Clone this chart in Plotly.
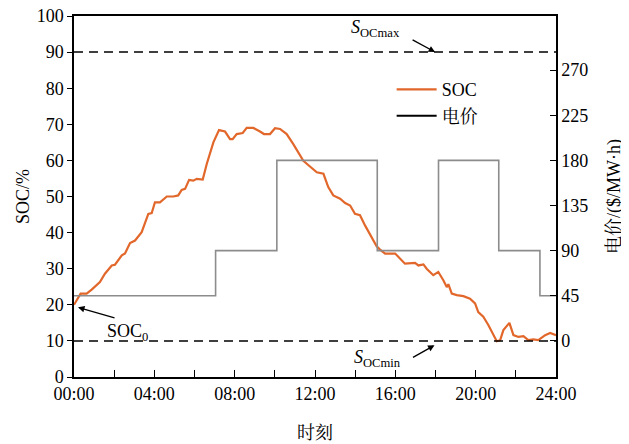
import plotly.graph_objects as go

# SOC curve (hours, %)
soc_hours = [0, 0.33, 0.63, 0.88, 1.29, 1.54, 1.88, 2.04, 2.38, 2.54, 2.79, 3.04, 3.37, 3.70, 3.87,
             4.03, 4.28, 4.62, 4.95, 5.19, 5.36, 5.53, 5.73, 5.94, 6.11, 6.41, 6.61, 6.94, 7.22,
             7.52, 7.77, 7.90, 8.10, 8.40, 8.60, 8.93, 9.26, 9.46, 9.76, 10.01, 10.26, 10.59,
             10.92, 11.42, 11.75, 12.09, 12.42, 12.66, 12.91, 13.25, 13.50, 13.75, 13.99, 14.24,
             14.49, 14.83, 15.07, 15.24, 15.49, 15.99, 16.48, 16.98, 17.15, 17.40, 17.56, 17.89,
             18.14, 18.39, 18.56, 18.64, 18.81, 19.06, 19.39, 19.72, 19.97, 20.13, 20.38, 20.63,
             20.80, 21.05, 21.22, 21.38, 21.68, 21.88, 22.13, 22.38, 22.62, 22.87, 23.12, 23.46,
             23.71, 24.0]
soc_values = [20.0, 23.1, 23.1, 24.2, 26.3, 28.6, 30.9, 31.1, 33.7, 34.2, 37.1, 37.8, 40.1, 45.2, 45.4,
              48.4, 48.4, 50.0, 50.0, 50.3, 51.8, 52.1, 54.6, 54.4, 54.9, 54.7, 59.0, 65.0, 68.4,
              68.0, 65.9, 65.9, 67.3, 67.6, 69.0, 69.0, 68.0, 67.3, 67.3, 68.9, 68.7, 67.3,
              64.5, 59.9, 58.3, 56.7, 56.3, 52.6, 50.3, 49.4, 48.2, 47.5, 45.2, 44.8,
              42.0, 38.8, 36.2, 35.3, 34.2, 34.2, 31.4, 31.6, 30.9, 31.2, 30.0, 28.2,
              29.1, 26.8, 24.9, 25.7, 23.1, 22.7, 22.4, 21.7, 20.4, 18.0, 16.7, 14.4,
              12.5, 9.9, 10.2, 13.0, 15.0, 11.6, 11.1, 11.3, 10.2, 10.4, 10.2, 11.6,
              12.2, 11.6]

# Electricity price steps (hours, $/MWh)
price_hours = [0, 7.05, 10.1, 15.1, 18.15, 21.15, 23.2, 24]
price_values = [45, 90, 180, 90, 180, 90, 45, 45]

soc_max = 90
soc_min = 10

x_tickvals = [0, 2, 4, 6, 8, 10, 12, 14, 16, 18, 20, 22, 24]
x_ticktext = ["00:00", "", "04:00", "", "08:00", "", "12:00", "", "16:00", "", "20:00", "", "24:00"]
y_tickvals = [0, 10, 20, 30, 40, 50, 60, 70, 80, 90, 100]
y2_tickvals = [0, 45, 90, 135, 180, 225, 270]

FONT = "Liberation Serif, Times New Roman, Noto Serif CJK SC, Noto Sans CJK SC, serif"
SOC_COLOR = "#E2672B"
PRICE_COLOR = "#8C8C8C"

fig = go.Figure()

fig.add_trace(go.Scatter(x=price_hours, y=price_values, mode="lines", line_shape="hv",
                         line=dict(color=PRICE_COLOR, width=1.6), yaxis="y2", showlegend=False))
fig.add_trace(go.Scatter(x=soc_hours, y=soc_values, mode="lines", name="SOC",
                         line=dict(color=SOC_COLOR, width=2.2)))
fig.add_trace(go.Scatter(x=[None], y=[None], mode="lines", name="电价",
                         line=dict(color="black", width=2), yaxis="y2"))

for lvl in (soc_max, soc_min):
    fig.add_shape(type="line", xref="paper", x0=0, x1=1, yref="y", y0=lvl, y1=lvl,
                  line=dict(color="black", width=1.5, dash="9px,6px"))

fig.add_annotation(x=0.2, y=19.3, xref="x", yref="y", text="", showarrow=True,
                   arrowhead=2, arrowsize=1, arrowwidth=1.3, ax=38, ay=11, arrowcolor="black")
fig.add_annotation(x=2.64, y=12.2, xref="x", yref="y", text="SOC<sub>0</sub>", showarrow=False,
                   font=dict(family=FONT, size=18, color="black"))

fig.add_annotation(x=17.98, y=soc_max, xref="x", yref="y", text="", showarrow=True,
                   arrowhead=2, arrowsize=1, arrowwidth=1.3, ax=-24, ay=-13, arrowcolor="black")
fig.add_annotation(x=15.0, y=96.6, xref="x", yref="y",
                   text="<i>S</i><sub>OCmax</sub>",
                   showarrow=False, font=dict(family=FONT, size=18, color="black"))

fig.add_annotation(x=17.95, y=8.8, xref="x", yref="y", text="", showarrow=True,
                   arrowhead=2, arrowsize=1, arrowwidth=1.3, ax=-23, ay=13, arrowcolor="black")
fig.add_annotation(x=15.1, y=5.0, xref="x", yref="y",
                   text="<i>S</i><sub>OCmin</sub>",
                   showarrow=False, font=dict(family=FONT, size=18, color="black"))

fig.update_layout(
    width=621, height=436,
    margin=dict(l=66, r=73, t=8, b=67, autoexpand=False),
    paper_bgcolor="white", plot_bgcolor="white",
    font=dict(family=FONT, size=18, color="black"),
    showlegend=True,
    legend=dict(x=0.659, y=0.847, xanchor="left", yanchor="top", bgcolor="rgba(0,0,0,0)",
                font=dict(family=FONT, size=18), tracegroupgap=0, itemwidth=40),
    xaxis=dict(range=[0, 24], tickvals=x_tickvals, ticktext=x_ticktext, ticks="inside",
               ticklen=7, tickwidth=1.3, tickcolor="black", showline=True, linecolor="black",
               linewidth=1.5, mirror=True, showgrid=False, zeroline=False, automargin=False,
               ticklabeloverflow="allow",
               title=dict(text="时刻", font=dict(size=18), standoff=23)),
    yaxis=dict(range=[0, 100], tickvals=y_tickvals, ticks="outside", ticklen=5, tickwidth=1.3,
               tickcolor="black", showline=True, linecolor="black", linewidth=1.5,
               showgrid=False, zeroline=False, automargin=False, ticklabeloverflow="allow",
               title=dict(text="SOC/%", font=dict(size=18), standoff=2)),
    yaxis2=dict(range=[-36, 324], tickvals=y2_tickvals, overlaying="y", side="right",
                ticks="inside", ticklen=6, tickwidth=1.3, tickcolor="black", showline=True,
                linecolor="black", linewidth=1.5, showgrid=False, zeroline=False, automargin=False,
                ticklabeloverflow="allow",
                title=dict(text="电价/($/MW·h)", font=dict(size=18), standoff=20)),
)

fig.write_html("out.html")
